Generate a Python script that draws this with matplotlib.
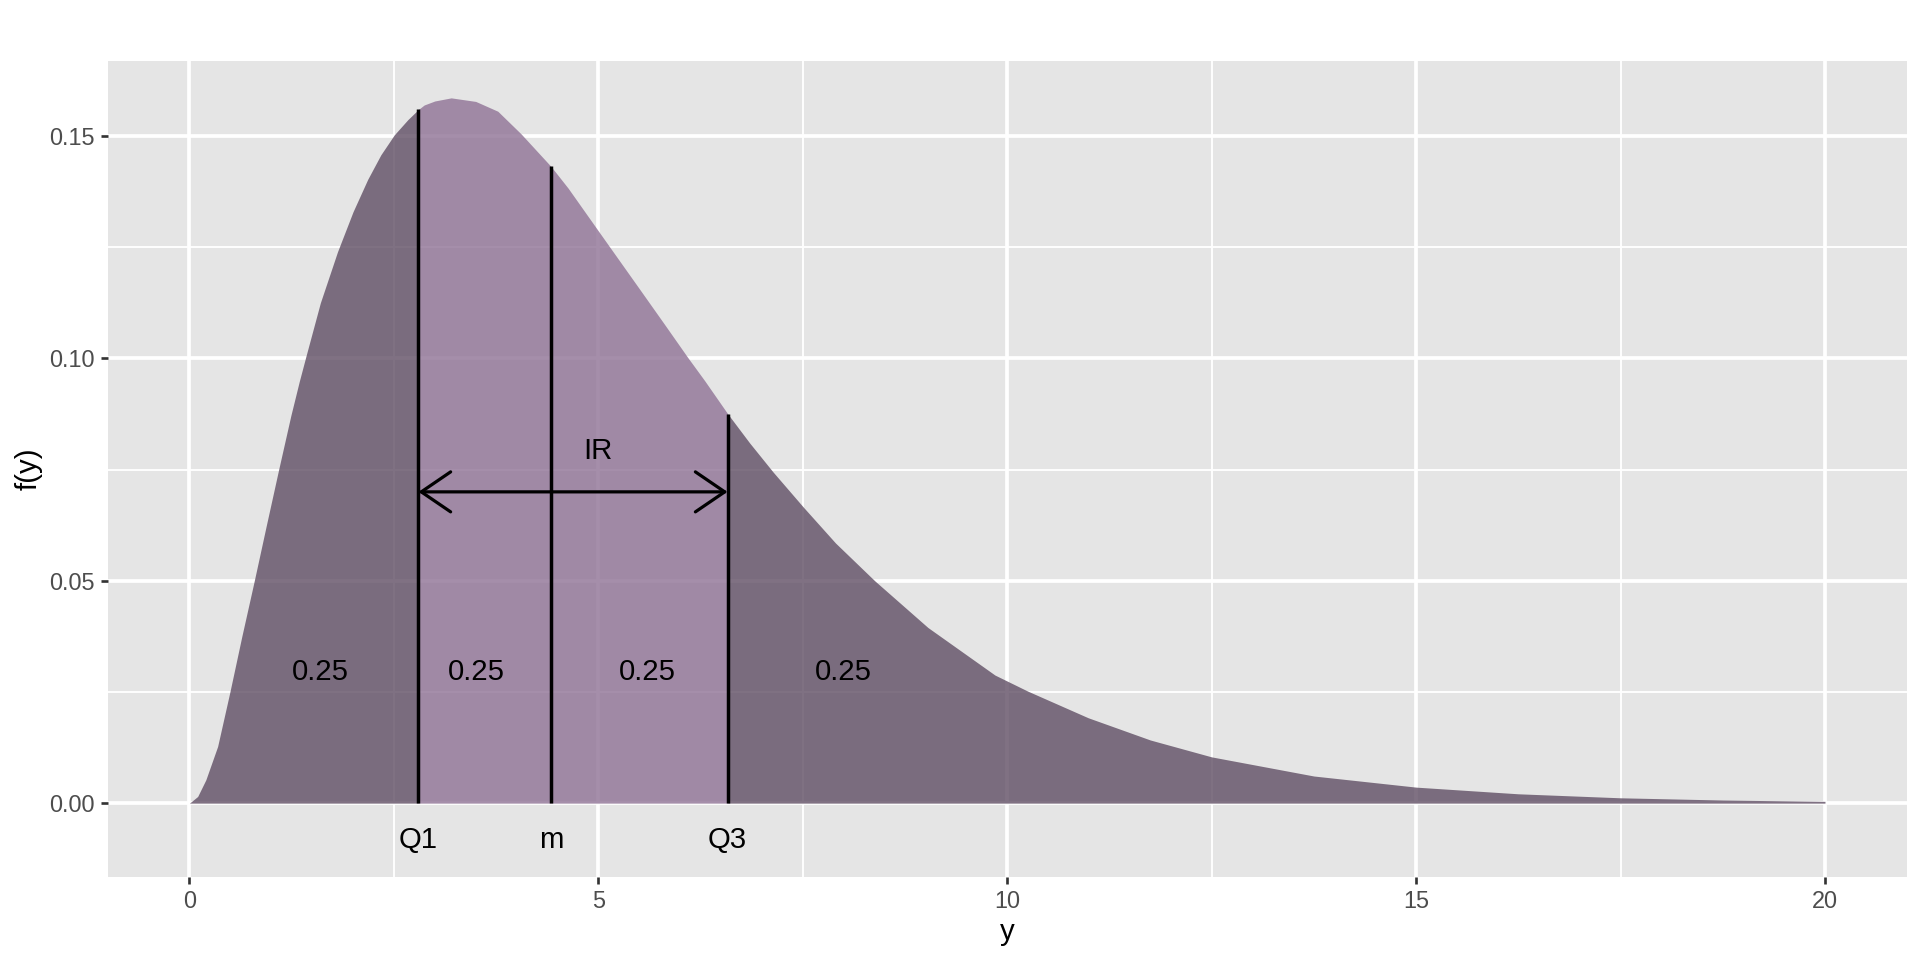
import matplotlib
matplotlib.use("Agg")
import matplotlib.pyplot as plt
import numpy as np

plt.rcParams['font.family'] = ['Liberation Sans', 'DejaVu Sans']

# density curve
y_vals = [0, 0.10, 0.20, 0.344, 0.494, 0.64, 0.792, 0.94, 1.09, 1.24, 1.342,
          1.424, 1.60, 1.81, 2.0, 2.18, 2.34, 2.505, 2.67, 2.80, 2.87, 3.0,
          3.2, 3.5, 3.77, 4.055, 4.42, 4.63, 5.095, 5.5, 5.8, 6.09, 6.30,
          6.58, 6.85, 7.135, 7.51, 7.9, 8.38, 9.03, 9.85, 10.25, 10.99, 11.75,
          12.5, 13.75, 15, 16.25, 17.5, 18.75, 20]
f_vals = [0, 0.0015, 0.00525, 0.01275, 0.025, 0.0375, 0.050, 0.0625, 0.075,
          0.0872, 0.0948, 0.1005, 0.1125, 0.1240, 0.1330, 0.1403, 0.1458,
          0.1503, 0.1537, 0.1560, 0.1570, 0.1579, 0.1586, 0.1578, 0.1556,
          0.1505, 0.1432, 0.1383, 0.1262, 0.1157, 0.1079, 0.1003, 0.0950,
          0.0876, 0.0810, 0.0745, 0.0665, 0.0585, 0.0500, 0.0395, 0.0288,
          0.0252, 0.0192, 0.0142, 0.0104, 0.0061, 0.0036, 0.0021, 0.0012,
          0.0007, 0.0004]

quant_labels = ["Q1", "m", "Q3"]
quant_x = [2.80, 4.42, 6.58]
quant_h = [0.1562, 0.1432, 0.0876]

area_labels = ["0.25", "0.25", "0.25", "0.25"]
area_label_x = [1.60, 3.51, 5.60, 8.0]
area_label_y = 0.0295

arrow_y = 0.07
ir_label = "IR"
ir_x, ir_y = 5.0, 0.0792
quant_label_y = -0.0083

x_ticks = [0, 5, 10, 15, 20]
y_ticks = [0.00, 0.05, 0.10, 0.15]

fig = plt.figure(figsize=(10, 5), dpi=192)
ax = fig.add_axes([0.0561, 0.0865, 0.9370, 0.8500])
bg = "#E5E5E5"
ax.set_facecolor(bg)
for s in ax.spines.values():
    s.set_visible(False)

ax.set_xlim(-1.0, 21.0)
ax.set_ylim(-0.0166, 0.1669)
ax.set_xticks(x_ticks)
ax.set_yticks(y_ticks)
ax.set_xticks([2.5, 7.5, 12.5, 17.5], minor=True)
ax.set_yticks([0.025, 0.075, 0.125], minor=True)
ax.set_xticklabels([str(t) for t in x_ticks])
ax.set_yticklabels([f"{t:.2f}" for t in y_ticks])
ax.grid(which="major", color="white", linewidth=1.4)
ax.grid(which="minor", color="white", linewidth=0.7)
ax.set_axisbelow(True)
ax.tick_params(which="major", length=2.75, width=1.0, color="#333333",
               labelsize=8.8, labelcolor="#4D4D4D", pad=2.2)
ax.tick_params(which="minor", length=0)

xa = np.array(y_vals)
fa = np.array(f_vals)
dark = (96/255, 78/255, 100/255)
light = (143/255, 114/255, 149/255)
ax.fill_between(xa, 0, fa, where=(xa <= quant_x[0]), color=dark, alpha=0.8, linewidth=0)
ax.fill_between(xa, 0, fa, where=(xa >= quant_x[2]), color=dark, alpha=0.8, linewidth=0)
ax.fill_between(xa, 0, fa, where=(xa >= quant_x[0]) & (xa <= quant_x[2]),
                color=light, alpha=0.8, linewidth=0)

for qx, qh, ql in zip(quant_x, quant_h, quant_labels):
    ax.plot([qx, qx], [0, qh], color="black", linewidth=1.3, solid_capstyle="butt")
    ax.text(qx, quant_label_y, ql, ha="center", va="center", fontsize=11, color="black")

for lx, lt in zip(area_label_x, area_labels):
    ax.text(lx, area_label_y, lt, ha="center", va="center", fontsize=11, color="black")

ax.annotate("", xy=(quant_x[2], arrow_y), xytext=(quant_x[0], arrow_y),
            arrowprops=dict(arrowstyle="<->,head_length=1.1,head_width=0.75",
                            lw=1.2, color="black", shrinkA=0, shrinkB=0,
                            mutation_scale=10))
ax.text(ir_x, ir_y, ir_label, ha="center", va="center", fontsize=11, color="black")

ax.set_xlabel("y", fontsize=11, labelpad=2)
ax.set_ylabel("f(y)", fontsize=11, labelpad=2.5)

fig.savefig("out.png", dpi=192, facecolor="white")
